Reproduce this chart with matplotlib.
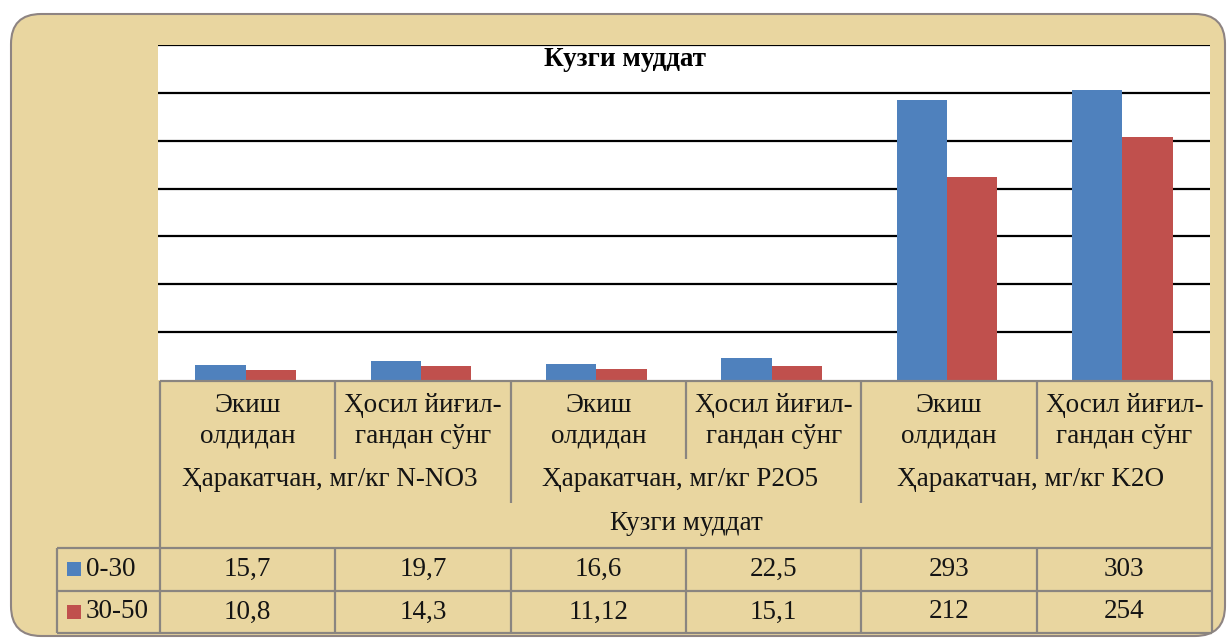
import matplotlib
matplotlib.use("Agg")
import matplotlib.pyplot as plt
from matplotlib.patches import FancyBboxPatch, Rectangle
import numpy as np

# ---- data ----
level1 = ["Экиш\nолдидан", "Ҳосил йиғил-\nгандан сўнг"] * 3
level2 = ["Ҳаракатчан, мг/кг N-NO3", "Ҳаракатчан, мг/кг P2O5", "Ҳаракатчан, мг/кг K2O"]
level3 = "Кузги муддат"
title = "Кузги муддат"
series_names = ["0-30", "30-50"]
vals_0_30 = [15.7, 19.7, 16.6, 22.5, 293, 303]
vals_30_50 = [10.8, 14.3, 11.12, 15.1, 212, 254]
labels_0_30 = ["15,7", "19,7", "16,6", "22,5", "293", "303"]
labels_30_50 = ["10,8", "14,3", "11,12", "15,1", "212", "254"]

BLUE = "#4F81BD"
RED = "#C0504D"
PARCH = "#E9D6A0"
GRID_GREY = "#8A8580"

W, H = 1231, 641
fig = plt.figure(figsize=(W / 100, H / 100), dpi=100)
fig.patch.set_facecolor("white")
FONT = ["Liberation Serif", "DejaVu Serif"]

# background axes (pixel coordinates)
bg = fig.add_axes([0, 0, 1, 1], zorder=0)
bg.set_xlim(0, W); bg.set_ylim(H, 0); bg.axis("off")
bg.add_patch(FancyBboxPatch((11, 14), 1214, 622, boxstyle="round,pad=0,rounding_size=30",
                            facecolor=PARCH, edgecolor="#8E8482", lw=1.5))

# plot area
px0, px1, py0, py1 = 158, 1210, 45, 380
ax = fig.add_axes([px0 / W, 1 - py1 / H, (px1 - px0) / W, (py1 - py0) / H], zorder=1)
ax.set_facecolor("white")
x = np.arange(len(vals_0_30))
bw = 0.288
ax.bar(x - bw / 2, vals_0_30, bw, color=BLUE, zorder=3)
ax.bar(x + bw / 2, vals_30_50, bw, color=RED, zorder=3)
ax.set_xlim(-0.5, len(x) - 0.5)
ax.set_ylim(0, 350)
for yv in range(50, 351, 50):
    ax.axhline(yv, color="black", lw=1.6, zorder=1)
for s in ax.spines.values():
    s.set_visible(False)
ax.set_xticks([]); ax.set_yticks([])
ax.text(0.444, 0.958, title, transform=ax.transAxes, ha="center", va="center",
        fontsize=19.5, fontweight="bold", family=FONT, zorder=5)

# overlay for table
ov = fig.add_axes([0, 0, 1, 1], zorder=2)
ov.set_xlim(0, W); ov.set_ylim(H, 0); ov.axis("off")
ov.patch.set_alpha(0)

cw = (px1 - px0) / len(x)
edges = [px0 + 2 + i * cw for i in range(len(x) + 1)]
centers = [(edges[i] + edges[i + 1]) / 2 for i in range(len(x))]
lk = dict(color=GRID_GREY, lw=1.6, solid_capstyle="butt")

ov.plot([edges[0], edges[-1]], [381, 381], **lk)
ov.plot([edges[0], edges[0]], [381, 633], **lk)
ov.plot([edges[-1], edges[-1]], [381, 633], **lk)
for i in (1, 3, 5):
    ov.plot([edges[i], edges[i]], [381, 459], **lk)
for i in (2, 4):
    ov.plot([edges[i], edges[i]], [381, 503], **lk)
for yy in (548, 591, 633):
    ov.plot([57, edges[-1]], [yy, yy], **lk)
ov.plot([57, 57], [548, 633], **lk)
for e in edges[1:-1]:
    ov.plot([e, e], [548, 633], **lk)

fs = 19.5
TC = "#141414"
for c, lab in zip(centers, level1):
    ov.text(c, 421, lab, ha="center", va="center", fontsize=fs, family=FONT,
            linespacing=1.3, color=TC)
for k, lab in enumerate(level2):
    ov.text(edges[2 * k + 1] - 6, 479, lab, ha="center", va="center", fontsize=fs,
            family=FONT, color=TC)
ov.text((edges[0] + edges[-1]) / 2, 523, level3, ha="center", va="center",
        fontsize=fs, family=FONT, color=TC)
for c, a, b in zip(centers, labels_0_30, labels_30_50):
    ov.text(c, 569, a, ha="center", va="center", fontsize=fs, family=FONT, color=TC)
    ov.text(c, 612, b, ha="center", va="center", fontsize=fs, family=FONT, color=TC)
for yy, name, col in ((569, series_names[0], BLUE), (612, series_names[1], RED)):
    ov.add_patch(Rectangle((67, yy - 7), 14, 14, facecolor=col, edgecolor="none"))
    ov.text(86, yy, name, ha="left", va="center", fontsize=fs, family=FONT, color=TC)

fig.savefig("out.png", dpi=100)
